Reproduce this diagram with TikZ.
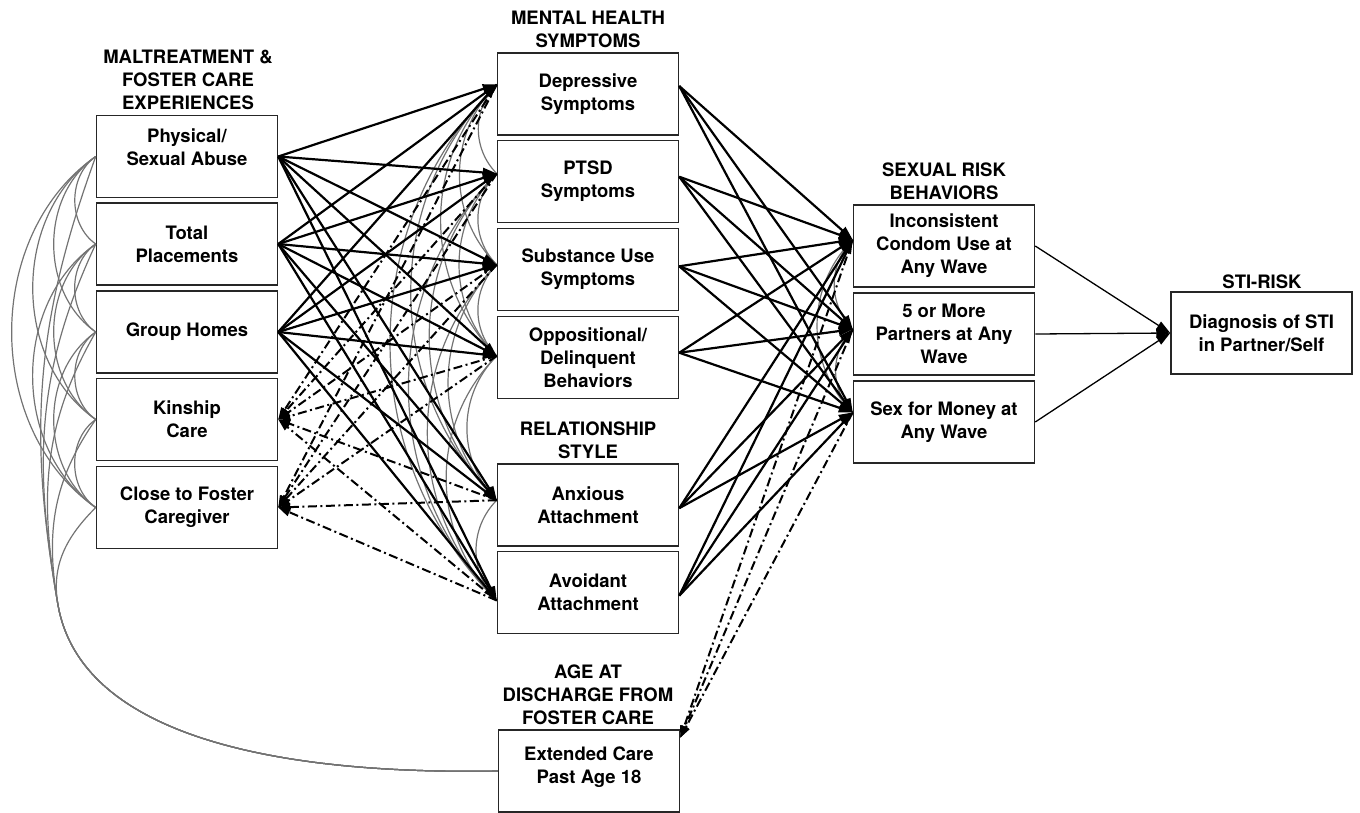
\documentclass[tikz,border=0pt]{standalone}
\usepackage{fontspec}
\setmainfont{TeX Gyre Heros}
\usetikzlibrary{arrows.meta}

\begin{document}
\begin{tikzpicture}[x=1pt, y=-1pt,
  font=\fontsize{18.5}{23}\selectfont\bfseries,
  box/.style={draw=black!85, line width=1.5pt, minimum width=181pt, minimum height=82pt, inner sep=0pt, align=center},
  head/.style={align=center, inner sep=0pt},
  effect/.style={line width=2.2pt, -{Triangle[length=14pt, width=9pt]}},
  reverse/.style={line width=2pt, dash pattern=on 9pt off 3.5pt on 2pt off 3.5pt, -{Triangle[length=12pt, width=8pt]}},
  outcome/.style={line width=1.3pt, -{Triangle[length=14pt, width=9pt]}},
  cov/.style={line width=1.2pt, draw=black!55}]
\useasboundingbox (0,0) rectangle (1360,812);
\node [box] (0) at (187, 156.5) {Physical/\\Sexual Abuse\\[-4pt]\mbox{}};
\node [box] (1) at (187, 244) {Total\\Placements};
\node [box] (2) at (187, 332) {Group Homes};
\node [box] (3) at (187, 419.5) {Kinship\\Care};
\node [box] (4) at (187, 507.5) {Close to Foster\\Caregiver};
\node [box] (5) at (588, 94) {Depressive\\Symptoms};
\node [box] (6) at (588, 181.5) {PTSD\\Symptoms};
\node [box] (7) at (588, 269.5) {Substance Use\\Symptoms};
\node [box] (8) at (588, 357.5) {Oppositional/\\Delinquent\\Behaviors};
\node [box] (9) at (588, 505) {Anxious\\Attachment};
\node [box] (10) at (588, 592.5) {Avoidant\\Attachment};
\node [box] (11) at (589, 771) {Extended Care\\Past Age 18\\[-12pt]\mbox{}};
\node [box] (12) at (944, 246) {Inconsistent\\Condom Use at\\Any Wave};
\node [box] (13) at (944, 334) {5 or More\\Partners at Any\\Wave};
\node [box] (14) at (944, 422) {Sex for Money at\\Any Wave};
\node [box] (15) at (1261.5, 333) {Diagnosis of STI\\in Partner/Self};
\node [head] (16) at (188, 80) {MALTREATMENT \&\\FOSTER CARE\\EXPERIENCES};
\node [head] (17) at (588, 29.5) {MENTAL HEALTH\\SYMPTOMS};
\node [head] (18) at (588, 440) {RELATIONSHIP\\STYLE};
\node [head] (19) at (588, 695) {AGE AT\\DISCHARGE FROM\\FOSTER CARE};
\node [head] (20) at (944, 181.5) {SEXUAL RISK\\BEHAVIORS};
\node [head] (21) at (1262, 282) {STI-RISK};
\coordinate (22) at (58, 605);
\draw [cov] (0.west) to [bend right=55] (1.west);
\draw [cov] (0.west) to [bend right=55] (2.west);
\draw [cov] (0.west) to [bend right=55] (3.west);
\draw [cov] (0.west) to [bend right=55] (4.west);
\draw [cov] (1.west) to [bend right=55] (2.west);
\draw [cov] (1.west) to [bend right=55] (3.west);
\draw [cov] (1.west) to [bend right=55] (4.west);
\draw [cov] (2.west) to [bend right=55] (3.west);
\draw [cov] (2.west) to [bend right=55] (4.west);
\draw [cov] (3.west) to [bend right=55] (4.west);
\draw [cov] (11.west) to [out=181, in=280, out distance=230pt, in distance=130pt] (22) to [out=100, in=250] (0.west);
\draw [cov] (11.west) to [out=181, in=280, out distance=230pt, in distance=130pt] (22) to [out=100, in=245] (1.west);
\draw [cov] (11.west) to [out=181, in=280, out distance=230pt, in distance=130pt] (22) to [out=100, in=240] (2.west);
\draw [cov] (11.west) to [out=181, in=280, out distance=230pt, in distance=130pt] (22) to [out=100, in=235] (3.west);
\draw [cov] (11.west) to [out=181, in=280, out distance=230pt, in distance=130pt] (22) to [out=100, in=225] (4.west);
\draw [cov] (5.174) to [bend right=45] (6.175);
\draw [cov] (5.174) to [bend right=45] (7.177);
\draw [cov] (5.174) to [bend right=45] (8.179);
\draw [cov] (5.174) to [bend right=45] (9.177);
\draw [cov] (5.174) to [bend right=45] (10.185);
\draw [cov] (6.175) to [bend right=45] (7.177);
\draw [cov] (6.175) to [bend right=45] (8.179);
\draw [cov] (6.175) to [bend right=45] (9.177);
\draw [cov] (6.175) to [bend right=45] (10.185);
\draw [cov] (7.177) to [bend right=45] (8.179);
\draw [cov] (7.177) to [bend right=45] (9.177);
\draw [cov] (7.177) to [bend right=45] (10.185);
\draw [cov] (8.179) to [bend right=45] (9.177);
\draw [cov] (8.179) to [bend right=45] (10.185);
\draw [cov] (9.177) to [bend right=45] (10.185);
\draw [cov] (12.176) to [bend right=45] (13.177);
\draw [cov] (12.176) to [bend right=45] (14.174);
\draw [cov] (13.177) to [bend right=45] (14.174);
\draw [effect] (0.east) to (5.174);
\draw [effect] (0.east) to (6.175);
\draw [effect] (0.east) to (7.177);
\draw [effect] (0.east) to (8.179);
\draw [effect] (0.east) to (9.177);
\draw [effect] (0.east) to (10.185);
\draw [effect] (1.east) to (5.174);
\draw [effect] (1.east) to (6.175);
\draw [effect] (1.east) to (7.177);
\draw [effect] (1.east) to (8.179);
\draw [effect] (1.east) to (9.177);
\draw [effect] (1.east) to (10.185);
\draw [effect] (2.east) to (5.174);
\draw [effect] (2.east) to (6.175);
\draw [effect] (2.east) to (7.177);
\draw [effect] (2.east) to (8.179);
\draw [effect] (2.east) to (9.177);
\draw [effect] (2.east) to (10.185);
\draw [reverse] (5.174) to (3.east);
\draw [reverse] (6.175) to (3.east);
\draw [reverse] (7.177) to (3.east);
\draw [reverse] (8.179) to (3.east);
\draw [reverse] (9.177) to (3.east);
\draw [reverse] (10.185) to (3.east);
\draw [reverse] (5.174) to (4.east);
\draw [reverse] (6.175) to (4.east);
\draw [reverse] (7.177) to (4.east);
\draw [reverse] (8.179) to (4.east);
\draw [reverse] (9.177) to (4.east);
\draw [reverse] (10.185) to (4.east);
\draw [effect] (5.5) to (12.176);
\draw [effect] (5.5) to (13.177);
\draw [effect] (5.5) to (14.174);
\draw [effect] (6.3) to (12.176);
\draw [effect] (6.3) to (13.177);
\draw [effect] (6.3) to (14.174);
\draw [effect] (7.2) to (12.176);
\draw [effect] (7.2) to (13.177);
\draw [effect] (7.2) to (14.174);
\draw [effect] (8.3) to (12.176);
\draw [effect] (8.3) to (13.177);
\draw [effect] (8.3) to (14.174);
\draw [effect] (9.358) to (12.176);
\draw [effect] (9.358) to (13.177);
\draw [effect] (9.358) to (14.174);
\draw [effect] (10.358) to (12.176);
\draw [effect] (10.358) to (13.177);
\draw [effect] (10.358) to (14.174);
\draw [reverse] (12.176) to (11.20);
\draw [reverse] (13.177) to (11.20);
\draw [reverse] (14.174) to (11.20);
\draw [outcome] (12.east) to (15.west);
\draw [outcome] (13.east) to (15.west);
\draw [outcome] (14.east) to (15.west);
\end{tikzpicture}
\end{document}
